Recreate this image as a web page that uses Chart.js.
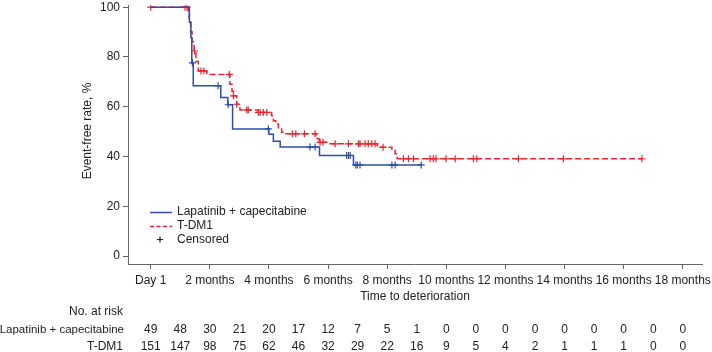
<!DOCTYPE html>
<html>
<head>
<meta charset="utf-8">
<script src="https://cdn.jsdelivr.net/npm/chart.js@4"></script>
<style>
  html, body { margin: 0; padding: 0; background: #fff; }
  #wrap { width: 712px; height: 352px; }
</style>
</head>
<body>
<div id="wrap"><canvas id="kmChart" width="712" height="352"></canvas></div>
<script>
// Lapatinib + capecitabine (blue), step times in months and survival %
const lapTime = [0, 1.31, 1.36, 1.39, 1.44, 2.37, 2.61, 2.77, 4.00, 4.15, 4.38, 5.71, 6.86, 9.15];
const lapSurv = [100, 93.9, 87.8, 77.6, 68.4, 63.7, 60.8, 51.1, 48.9, 46.1, 43.8, 40.4, 36.6, 36.6];
const lapCensor = [1.41, 2.28, 2.62, 3.98, 5.39, 5.56, 6.63, 6.69, 6.75, 6.94, 6.99, 7.08, 8.16, 8.27, 9.15];

// T-DM1 (red dashed)
const tdmTime = [0, 1.27, 1.30, 1.35, 1.40, 1.47, 1.53, 1.61, 1.90, 2.68, 2.75, 2.80, 2.91, 3.02, 3.64,
  4.09, 4.15, 4.23, 4.32, 4.43, 4.54, 5.59, 5.64, 5.70, 6.07, 7.67, 8.16, 8.27, 8.34, 16.62];
const tdmSurv = [100, 97.4, 94.4, 90.1, 86.1, 82.4, 78.2, 74.4, 73.0, 69.0, 66.2, 64.4, 61.0, 58.7, 57.7,
  56.4, 54.4, 53.1, 51.1, 49.7, 49.1, 48.4, 47.1, 45.7, 45.1, 43.7, 42.4, 41.1, 39.1, 39.1];
const tdmCensor = [0, 1.16, 1.23, 1.48, 1.70, 1.80, 2.66, 2.80, 2.91, 3.25, 3.30, 3.64, 3.70, 3.81, 3.93,
  4.79, 4.91, 5.20, 5.56, 5.73, 5.83, 6.24, 6.69, 7.03, 7.08, 7.25, 7.36, 7.48, 7.59, 7.86,
  8.55, 8.72, 8.89, 9.45, 9.56, 9.65, 9.99, 10.30, 10.92, 11.03, 12.44, 13.96, 16.62];

// axes
const xTickValues = [0, 2, 4, 6, 8, 10, 12, 14, 16, 18];
const xTickLabels = ['Day 1', '2 months', '4 months', '6 months', '8 months', '10 months',
  '12 months', '14 months', '16 months', '18 months'];
const yTickValues = [0, 20, 40, 60, 80, 100];

// number at risk, one column per month
const riskMonths = [0, 1, 2, 3, 4, 5, 6, 7, 8, 9, 10, 11, 12, 13, 14, 15, 16, 17, 18];
const lapRisk = [49, 48, 30, 21, 20, 17, 12, 7, 5, 1, 0, 0, 0, 0, 0, 0, 0, 0, 0];
const tdmRisk = [151, 147, 98, 75, 62, 46, 32, 29, 22, 16, 9, 5, 4, 2, 1, 1, 1, 0, 0];

const BLUE = '#2f4caa';
const RED = '#f2222c';
const AXIS = '#666';
const TXT = '#222';
const FONT = '"Liberation Sans", Arial, sans-serif';

// value of step curve at time t
function survAt(times, surv, t) {
  let v = surv[0];
  for (let i = 0; i < times.length; i++) {
    if (times[i] <= t) v = surv[i];
  }
  return v;
}

const lapLine = lapTime.map((t, i) => ({x: t, y: lapSurv[i]}));
const tdmLine = tdmTime.map((t, i) => ({x: t, y: tdmSurv[i]}));
const lapMarks = lapCensor.map(t => ({x: t, y: survAt(lapTime, lapSurv, t)}));
const tdmMarks = tdmCensor.map(t => ({x: t, y: survAt(tdmTime, tdmSurv, t)}));

// legend, axis titles and risk table
const extras = {
  id: 'extras',
  afterDraw(chart) {
    const ctx = chart.ctx;
    const xs = chart.scales.x;
    const area = chart.chartArea;
    ctx.save();
    ctx.font = '12px ' + FONT;
    ctx.fillStyle = TXT;
    ctx.textBaseline = 'middle';

    // y title
    ctx.save();
    ctx.translate(88, 131);
    ctx.rotate(-Math.PI / 2);
    ctx.textAlign = 'center';
    ctx.fillText('Event-free rate, %', 0, 0);
    ctx.restore();

    // x title
    ctx.textAlign = 'center';
    ctx.fillText('Time to deterioration', (area.left + area.right) / 2, 297);

    // legend
    ctx.textAlign = 'left';
    ctx.lineWidth = 1.5;
    ctx.strokeStyle = BLUE;
    ctx.beginPath(); ctx.moveTo(150, 212.5); ctx.lineTo(172, 212.5); ctx.stroke();
    ctx.strokeStyle = RED;
    ctx.setLineDash([4, 2.5]);
    ctx.beginPath(); ctx.moveTo(150, 226.5); ctx.lineTo(172, 226.5); ctx.stroke();
    ctx.setLineDash([]);
    ctx.strokeStyle = '#222';
    ctx.lineWidth = 1.2;
    ctx.beginPath();
    ctx.moveTo(157, 239.5); ctx.lineTo(163, 239.5);
    ctx.moveTo(160, 236.5); ctx.lineTo(160, 242.5);
    ctx.stroke();
    ctx.fillText('Lapatinib + capecitabine', 177, 212);
    ctx.fillText('T-DM1', 177, 226);
    ctx.fillText('Censored', 177, 240);

    // number at risk
    ctx.textAlign = 'right';
    ctx.fillText('No. at risk', 123, 312);
    ctx.fillText('T-DM1', 123, 347);
    ctx.save();
    ctx.font = '11.5px ' + FONT;
    ctx.fillText('Lapatinib + capecitabine', 124, 330);
    ctx.restore();
    ctx.textAlign = 'center';
    riskMonths.forEach((m, i) => {
      const px = xs.getPixelForValue(m);
      ctx.fillText(String(lapRisk[i]), px, 330);
      ctx.fillText(String(tdmRisk[i]), px, 347);
    });
    ctx.restore();
  }
};

new Chart(document.getElementById('kmChart'), {
  type: 'line',
  data: {
    datasets: [
      {
        label: 'Lapatinib + capecitabine',
        data: lapLine,
        borderColor: BLUE,
        borderWidth: 1.5,
        stepped: true,
        pointRadius: 0,
        fill: false
      },
      {
        label: 'T-DM1',
        data: tdmLine,
        borderColor: RED,
        borderWidth: 1.5,
        borderDash: [6, 3],
        stepped: true,
        pointRadius: 0,
        fill: false
      },
      {
        label: 'lap censored',
        type: 'scatter',
        data: lapMarks,
        pointStyle: 'cross',
        pointRadius: 3.5,
        borderColor: BLUE,
        borderWidth: 1.2,
        showLine: false
      },
      {
        label: 'tdm censored',
        type: 'scatter',
        data: tdmMarks,
        pointStyle: 'cross',
        pointRadius: 3.5,
        borderColor: RED,
        borderWidth: 1.2,
        showLine: false
      }
    ]
  },
  options: {
    responsive: false,
    animation: false,
    layout: { padding: { top: 1, right: 10, left: 0, bottom: 0 } },
    plugins: {
      legend: { display: false },
      tooltip: { enabled: false }
    },
    scales: {
      x: {
        type: 'linear',
        min: -0.768,
        max: 18.65,
        afterFit(scale) {
          scale.height = 88;
          scale.paddingLeft = 0;
          scale.paddingRight = 0;
        },
        afterBuildTicks(scale) { scale.ticks = xTickValues.map(v => ({value: v})); },
        border: { display: true, color: AXIS, width: 1 },
        grid: { drawOnChartArea: false, drawTicks: true, tickLength: 5, color: AXIS },
        ticks: {
          padding: 4,
          maxRotation: 0,
          autoSkip: false,
          color: TXT,
          font: { size: 12, family: FONT },
          callback: (v) => xTickLabels[xTickValues.indexOf(v)]
        }
      },
      y: {
        min: -3.2,
        max: 100.8,
        afterFit(scale) {
          scale.width = 128;
          scale.paddingTop = 0;
          scale.paddingBottom = 0;
        },
        afterBuildTicks(scale) { scale.ticks = yTickValues.map(v => ({value: v})); },
        border: { display: true, color: AXIS, width: 1 },
        grid: { drawOnChartArea: false, drawTicks: true, tickLength: 5, color: AXIS },
        ticks: {
          padding: 3,
          color: TXT,
          font: { size: 12, family: FONT }
        }
      }
    }
  },
  plugins: [extras]
});
</script>
</body>
</html>
